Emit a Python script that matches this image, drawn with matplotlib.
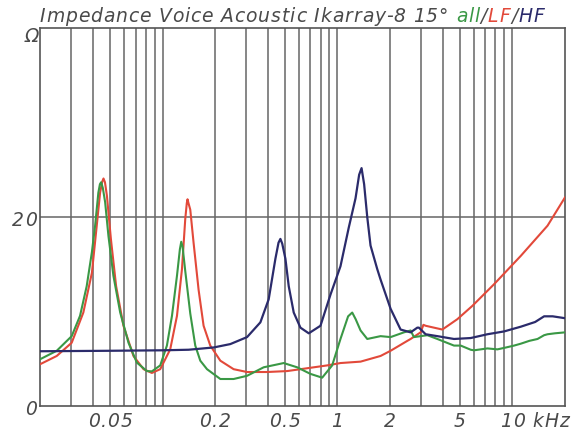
import matplotlib
matplotlib.use("Agg")
import matplotlib.pyplot as plt
from matplotlib.ticker import NullLocator
from matplotlib.transforms import IdentityTransform
from matplotlib.font_manager import FontProperties

# ---- data (frequency in kHz, impedance in ohm) ----
f_all = [0.0200, 0.0248, 0.0302, 0.0337, 0.0368, 0.0394, 0.0411, 0.0429, 0.0438, 0.0445,
         0.0455, 0.0469, 0.0490, 0.0523, 0.0572, 0.0638, 0.0712, 0.0813, 0.0868, 0.0969,
         0.1058, 0.1131, 0.1208, 0.1255, 0.1278, 0.1300, 0.1347, 0.1439, 0.1537, 0.1642,
         0.1794, 0.2138, 0.2547, 0.3040, 0.3784, 0.4925, 0.5877, 0.7007, 0.8173, 0.9324,
         1.040, 1.150, 1.214, 1.270, 1.355, 1.480, 1.763, 2.012, 2.398, 2.619, 2.735,
         2.988, 3.264, 3.724, 4.637, 5.065, 5.778, 6.035, 7.20, 8.218, 9.20, 10.23,
         11.17, 12.5, 13.93, 15.19, 15.89, 17.5, 20.0]
z_all = [4.97, 5.85, 7.4, 9.55, 12.7, 16.3, 19.1, 22.6, 23.5, 23.7,
         23.1, 21.6, 18.0, 13.8, 9.9, 6.7, 4.6, 3.7, 3.67, 4.3,
         6.4, 9.55, 13.8, 16.6, 17.4, 16.9, 14.3, 9.8, 6.4, 4.8,
         3.9, 2.86, 2.86, 3.2, 4.1, 4.55, 4.1, 3.4, 3.0, 4.3,
         7.1, 9.5, 9.9, 9.2, 8.0, 7.1, 7.4, 7.3, 7.8, 8.0, 7.3,
         7.4, 7.5, 7.1, 6.4, 6.4, 5.96, 5.9, 6.1, 6.0, 6.2, 6.4,
         6.6, 6.9, 7.1, 7.5, 7.6, 7.7, 7.8]

f_lf = [0.0200, 0.0248, 0.0302, 0.0352, 0.0394, 0.0420, 0.0439, 0.0452, 0.0459, 0.0468,
        0.0480, 0.0506, 0.0542, 0.0597, 0.0681, 0.0778, 0.0868, 0.0969, 0.1105, 0.1208,
        0.1290, 0.1347, 0.1375, 0.1388, 0.1405, 0.1439, 0.1503, 0.1606, 0.1715, 0.1873,
        0.2138, 0.2547, 0.3040, 0.3957, 0.5151, 0.6708, 0.8730, 1.040, 1.355, 1.545,
        1.763, 2.012, 2.508, 2.619, 2.988, 3.100, 3.192, 3.561, 3.978, 4.849,
        5.90, 7.858, 11.17, 15.89, 20.0]
z_lf = [4.44, 5.3, 6.7, 9.9, 14.1, 19.1, 22.6, 23.8, 24.1, 23.7,
        22.3, 17.7, 12.7, 8.5, 5.3, 3.9, 3.5, 3.9, 6.0, 9.55,
        14.5, 19.8, 21.5, 21.9, 21.5, 20.8, 17.3, 12.3, 8.5, 6.4,
        4.8, 3.9, 3.6, 3.6, 3.7, 4.0, 4.3, 4.55, 4.7, 5.0,
        5.3, 5.85, 6.9, 7.1, 7.8, 8.6, 8.5, 8.3, 8.1, 9.2,
        10.6, 12.9, 15.9, 19.1, 22.1]

f_hf = [0.0200, 0.0500, 0.1000, 0.1407, 0.1957, 0.2439, 0.3040, 0.3622, 0.4041, 0.4415,
        0.4600, 0.4715, 0.4830, 0.5037, 0.5261, 0.5620, 0.6139, 0.6850, 0.7991, 0.9119,
        1.040, 1.160, 1.268, 1.330, 1.373, 1.420, 1.480, 1.545, 1.688, 1.763,
        2.012, 2.295, 2.619, 2.861, 2.922, 3.192, 3.724, 4.637, 5.778, 7.201,
        8.966, 11.17, 13.5, 15.19, 17.0, 20.0]
z_hf = [5.8, 5.85, 5.9, 5.96, 6.2, 6.56, 7.3, 8.86, 11.3, 15.6,
        17.3, 17.7, 17.2, 15.6, 12.7, 9.9, 8.3, 7.7, 8.5, 11.8,
        14.8, 18.9, 22.0, 24.5, 25.2, 23.5, 20.0, 17.0, 14.5, 13.4,
        10.3, 8.1, 7.8, 8.3, 8.3, 7.6, 7.4, 7.1, 7.2, 7.6,
        7.9, 8.4, 8.9, 9.5, 9.5, 9.3]

x_ticks = [0.05, 0.2, 0.5, 1, 2, 5]
x_tick_labels = ["0.05", "0.2", "0.5", "1", "2", "5"]
y_ticks = [0, 20]
y_tick_labels = ["0", "20"]
grid_freqs = [0.03, 0.04, 0.05, 0.06, 0.07, 0.08, 0.09, 0.1,
              0.2, 0.3, 0.4, 0.5, 0.6, 0.7, 0.8, 0.9, 1,
              2, 3, 4, 5, 6, 7, 8, 9, 10]
title_pieces = [("Impedance Voice Acoustic Ikarray-8 15\u00b0 ", "#4a4a4a"),
                ("all", "#3a9845"), ("/", "#4a4a4a"), ("LF", "#e2493a"),
                ("/", "#4a4a4a"), ("HF", "#2b2b6b")]

GREEN = "#3a9845"
RED = "#e2493a"
NAVY = "#2b2b6b"
GRID = "#666666"
TEXT = "#4a4a4a"
FS = 13.5

plt.rcParams['font.family'] = ['DejaVu Sans']

W, H = 574, 431
fig = plt.figure(figsize=(W / 100, H / 100), dpi=100)
left, right, top, bottom = 40.4, 565.0, 29.4, 407.0
ax = fig.add_axes([left / W, (H - bottom) / H, (right - left) / W, (bottom - top) / H])
ax.set_xscale('log')
ax.set_xlim(0.02, 20)
ax.set_ylim(0, 40)

for g in grid_freqs:
    ax.axvline(g, color=GRID, lw=1.1, zorder=1)
ax.axhline(20, color=GRID, lw=1.1, zorder=1)

ax.plot(f_lf, z_lf, color=RED, lw=1.5, zorder=3, solid_joinstyle='round')
ax.plot(f_all, z_all, color=GREEN, lw=1.5, zorder=4, solid_joinstyle='round')
ax.plot(f_hf, z_hf, color=NAVY, lw=1.6, zorder=5, solid_joinstyle='round')

for s in ax.spines.values():
    s.set_color("#555555")
    s.set_linewidth(1.2)

ax.xaxis.set_minor_locator(NullLocator())
ax.set_xticks([])
ax.set_yticks([])

# ---- letter-spaced italic text helper (pixel coords, baseline measured from top) ----
fig.canvas.draw()
renderer = fig.canvas.get_renderer()
prop = FontProperties(family='DejaVu Sans', style='italic', size=FS)


def w(s):
    return renderer.get_text_width_height_descent(s, prop, ismath=False)[0]


def offsets(s):
    wl = w('l')
    return [w(s[:i] + 'l') - wl if i else 0.0 for i in range(len(s) + 1)]


full_title = "".join(p for p, _ in title_pieces)
title_target = 544.0 - 39.5
TRACK = max(0.0, (title_target - offsets(full_title)[-1]) / (len(full_title) - 1))


def text_width(s):
    return offsets(s)[-1] + TRACK * (len(s) - 1)


def spaced(x_px, base_from_top, s, color=TEXT, ha='left'):
    tw = text_width(s)
    if ha == 'center':
        x_px -= tw / 2
    elif ha == 'right':
        x_px -= tw
    y = H - base_from_top
    off = offsets(s)
    for i, c in enumerate(s):
        if c != ' ':
            fig.text(x_px + off[i] + TRACK * i, y, c, color=color, fontsize=FS,
                     style='italic', ha='left', va='baseline',
                     transform=IdentityTransform())
    return x_px + off[-1] + TRACK * len(s)


# x tick labels
for v, lab in zip(x_ticks, x_tick_labels):
    xp = ax.transData.transform((v, 1))[0]
    spaced(xp, 427.0, lab, ha='center')
x10 = ax.transData.transform((10, 1))[0]
spaced(x10 - text_width("10") / 2, 427.0, "10 kHz")

# y tick labels
for v, lab in zip(y_ticks, y_tick_labels):
    yp = ax.transData.transform((1, v))[1]
    spaced(36.5, (H - yp) + 8.0, lab, ha='right')
spaced(38.5, 42.0, "\u03a9", ha='right')

# multi-coloured title
x = 39.5
for txt, col in title_pieces:
    x = spaced(x, 21.7, txt, color=col)

fig.savefig("out.png", dpi=100)
